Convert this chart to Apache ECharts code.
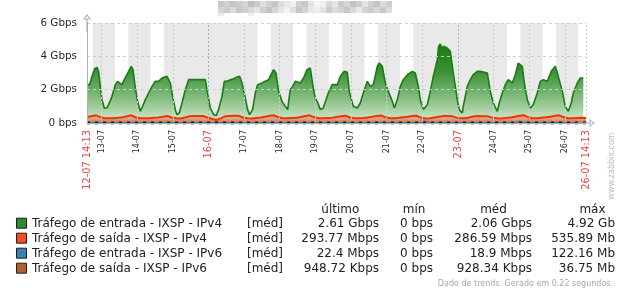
<!DOCTYPE html>
<html><head><meta charset="utf-8">
<script src="https://cdn.jsdelivr.net/npm/echarts@6/dist/echarts.min.js"></script>
<style>html,body{margin:0;padding:0;background:#fff}#c{width:625px;height:305px}</style>
</head><body><div id="c"></div>
<script>
// ---- DATA (hours since 12-07 14:13, values in Gbps) ----
const inV4Hours = [0,1.75,3.37,5.12,6.73,7.81,8.96,10.1,11.65,13.47,14.54,16.83,19.06,20.6,23.57,25.12,28.01,29.83,30.97,32.52,34.07,35.89,37.44,39.26,41.48,43.77,45.99,48.21,50.5,53.87,54.95,56.09,57.64,59.46,60.6,62.15,63.97,66.19,68.41,69.56,71.78,74.07,79.66,80.8,83.02,85.25,87.06,88.61,90.9,92.45,94.27,96.49,98.71,101.0,102.75,104.37,106.59,108.14,109.49,111.51,113.33,114.87,117.84,120.06,122.28,123.9,125.65,127.26,129.01,131.3,133.52,135.07,136.89,138.44,140.26,143.63,145.85,148.13,150.36,152.17,153.72,155.94,157.09,159.11,162.47,165.17,168.53,170.55,173.25,175.27,176.61,179.31,182.0,184.02,186.04,188.74,190.76,192.78,195.47,196.82,198.84,200.86,202.88,205.57,206.92,208.94,210.96,212.98,215.67,219.04,221.06,223.08,224.43,226.45,229.14,231.16,233.18,235.87,236.75,237.89,239.24,239.91,242.6,244.62,246.64,247.99,249.33,250.68,252.7,253.37,256.07,258.09,260.11,262.8,264.82,269.53,271.55,273.57,276.27,277.61,279.63,281.65,283.67,286.37,288.39,290.41,293.1,294.45,296.47,298.49,300.51,303.2,305.22,307.24,309.94,312.63,315.32,317.34,320.04,322.06,324.08,326.1,327.44,330.14,332.16,334.18,336];
const inV4 = [2.3,2.3,2.8,3.24,3.34,3.1,2.2,1.4,0.9,0.9,1.1,1.6,2.3,2.5,2.3,2.6,3.1,3.4,3.2,2.1,1.3,0.7,1.0,1.4,1.8,2.2,2.5,2.5,2.7,2.8,2.8,2.4,1.6,0.8,0.5,0.6,1.2,2.0,2.6,2.7,2.6,2.6,2.6,2.0,0.9,0.5,0.45,0.8,1.6,2.5,2.5,2.6,2.65,2.76,2.8,2.4,1.5,0.8,0.5,0.8,1.8,2.3,2.4,2.5,2.6,2.9,3.2,3.0,1.9,1.3,1.0,0.8,2.0,2.2,2.5,2.4,2.7,3.2,3.3,2.2,1.5,1.1,0.8,0.9,1.8,2.3,2.3,2.8,3.1,3.05,1.9,1.0,0.9,1.2,1.8,2.5,2.2,2.3,3.4,3.6,3.4,2.4,1.9,1.3,0.9,1.4,2.2,2.6,2.9,3.1,3.0,2.2,1.4,0.8,1.1,1.9,2.8,3.8,4.6,4.74,4.4,4.6,4.5,4.3,3.0,2.2,1.4,0.8,0.6,1.0,2.2,2.6,2.9,3.1,3.1,3.0,1.9,1.2,0.7,1.2,1.8,2.3,2.6,2.4,2.9,3.6,3.4,2.4,1.4,0.9,1.1,1.8,2.5,2.6,2.5,3.1,3.4,2.8,1.9,1.0,0.7,1.2,1.8,2.4,2.7,2.7];
// 3-hourly samples (0,3,...,336 h)
const outV4 = [0.36,0.41,0.46,0.35,0.29,0.28,0.28,0.31,0.35,0.41,0.46,0.33,0.29,0.28,0.29,0.31,0.33,0.37,0.42,0.33,0.28,0.27,0.33,0.40,0.42,0.42,0.42,0.33,0.26,0.18,0.28,0.40,0.42,0.43,0.44,0.33,0.28,0.27,0.30,0.33,0.38,0.43,0.46,0.34,0.29,0.28,0.30,0.32,0.36,0.42,0.46,0.34,0.29,0.28,0.30,0.32,0.36,0.40,0.44,0.33,0.29,0.28,0.30,0.33,0.37,0.42,0.45,0.34,0.29,0.28,0.31,0.35,0.38,0.42,0.43,0.32,0.27,0.28,0.33,0.38,0.42,0.42,0.40,0.32,0.28,0.28,0.34,0.40,0.42,0.41,0.40,0.32,0.28,0.27,0.30,0.33,0.38,0.44,0.47,0.35,0.29,0.28,0.31,0.34,0.38,0.43,0.46,0.34,0.29,0.28,0.30,0.32,0.30];
const inV6 = [0.02,0.021,0.024,0.02,0.016,0.015,0.016,0.018,0.02,0.022,0.024,0.02,0.016,0.015,0.016,0.018,0.019,0.021,0.023,0.019,0.016,0.015,0.017,0.02,0.022,0.022,0.022,0.019,0.015,0.014,0.016,0.02,0.022,0.023,0.023,0.019,0.016,0.015,0.017,0.019,0.021,0.023,0.024,0.02,0.016,0.015,0.017,0.018,0.02,0.022,0.024,0.02,0.016,0.015,0.017,0.018,0.02,0.022,0.023,0.019,0.016,0.015,0.017,0.019,0.021,0.022,0.024,0.02,0.016,0.015,0.017,0.019,0.021,0.022,0.023,0.019,0.12,0.016,0.018,0.02,0.022,0.022,0.021,0.019,0.016,0.015,0.018,0.021,0.022,0.022,0.021,0.019,0.016,0.015,0.017,0.019,0.021,0.12,0.024,0.02,0.016,0.015,0.017,0.019,0.021,0.023,0.024,0.02,0.016,0.015,0.017,0.018,0.022];
const outV6 = [0.00095,0.00096,0.00097,0.00094,0.00091,0.0009,0.00091,0.00093,0.00095,0.00096,0.00097,0.00094,0.00091,0.0009,0.00091,0.00093,0.00094,0.00095,0.00096,0.00093,0.0009,0.0009,0.00092,0.00094,0.00095,0.00095,0.00095,0.00093,0.0009,0.00089,0.00091,0.00094,0.00095,0.00096,0.00096,0.00093,0.00091,0.0009,0.00092,0.00093,0.00095,0.00096,0.00097,0.00094,0.00091,0.0009,0.00092,0.00093,0.00095,0.00096,0.00097,0.00094,0.00091,0.0009,0.00092,0.00093,0.00095,0.00096,0.00097,0.00094,0.00091,0.0009,0.00092,0.00093,0.00095,0.00096,0.00097,0.00094,0.00091,0.0009,0.00092,0.00093,0.00095,0.00096,0.00097,0.00093,0.0009,0.0009,0.00092,0.00094,0.00095,0.00095,0.00094,0.00093,0.0009,0.0009,0.00093,0.00095,0.00095,0.00095,0.00094,0.00092,0.0009,0.0009,0.00092,0.00093,0.00095,0.00096,0.00097,0.00094,0.00091,0.0009,0.00092,0.00093,0.00095,0.00096,0.00097,0.00094,0.00091,0.0009,0.00092,0.00093,0.00095];

const yTickLabels = ['0 bps','2 Gbps','4 Gbps','6 Gbps'];
const xTickLabels = ['12-07 14:13','13-07','14-07','15-07','16-07','17-07','18-07','19-07','20-07','21-07','22-07','23-07','24-07','25-07','26-07','26-07 14:13'];
const redTickLabels = ['12-07 14:13','16-07','23-07','26-07 14:13'];
const weekStartLabels = ['16-07','23-07'];

const legendNames = ['Tráfego de entrada - IXSP - IPv4','Tráfego de saída - IXSP - IPv4','Tráfego de entrada - IXSP - IPv6','Tráfego de saída - IXSP - IPv6'];
const legendFunc = ['[méd]','[méd]','[méd]','[méd]'];
const statHeaders = ['último','mín','méd','máx'];
const statLast = ['2.61 Gbps','293.77 Mbps','22.4 Mbps','948.72 Kbps'];
const statMin = ['0 bps','0 bps','0 bps','0 bps'];
const statAvg = ['2.06 Gbps','286.59 Mbps','18.9 Mbps','928.34 Kbps'];
const statMax = ['4.92 Gb','535.89 Mb','122.16 Mb','36.75 Mb'];
const footerText = 'Dado de trends. Gerado em 0.22 segundos.';
const watermarkText = 'www.zabbix.com';

// ---- helpers ----
const FONT = 'DejaVu Sans';
const START = Date.UTC(2017, 6, 12, 14, 13);
const HOUR = 3600000;
const SPAN = 336;
const firstMidnight = (Date.UTC(2017, 6, 13) - START) / HOUR;
const xTickHours = [0];
for (let k = 0; k < 14; k++) xTickHours.push(firstMidnight + 24 * k);
xTickHours.push(SPAN);
const hours3h = outV4.map((_, i) => i * 3);

// non-working periods (Mon-Fri 09-18 is working time)
const work = [];
for (let d = 11; d <= 27; d++) {
  const t = Date.UTC(2017, 6, d);
  const dow = new Date(t).getUTCDay();
  if (dow >= 1 && dow <= 5) work.push([(t + 9 * HOUR - START) / HOUR, (t + 18 * HOUR - START) / HOUR]);
}
const bands = [];
let cur = 0;
work.forEach(([a, b]) => {
  if (b <= 0 || a >= SPAN) return;
  if (a > cur) bands.push([cur, Math.min(a, SPAN)]);
  cur = Math.max(cur, b);
});
if (cur < SPAN) bands.push([cur, SPAN]);

const AXIS = '#a3b1b9';
const GRID = '#c5cfd5';
const GRID_DARK = '#9fb0ba';
const ARROW = 'path://M45 0 L90 60 L0 60 Z M45 20 L20 48 L70 48 Z M38 60 L52 60 L52 200 L38 200 Z';

const vLines = xTickHours.slice(1, -1).map((h, i) => ({
  xAxis: h,
  lineStyle: { color: weekStartLabels.includes(xTickLabels[i + 1]) ? GRID_DARK : GRID, type: [2, 2], width: 1 }
}));
vLines.push({ xAxis: SPAN, lineStyle: { color: GRID, type: [2, 2], width: 1 } });
const hLines = [2, 4, 6].map(v => ({ yAxis: v, lineStyle: { color: GRID, type: [3, 3], width: 1 } }));

const chart = echarts.init(document.getElementById('c'), null, { renderer: 'canvas' });

// legend graphics
const graphic = [];
const rowY = i => 223.7 + 15 * i;
const boxColors = ['#2f8a2f', '#f94b1f', '#3b80b2', '#ae622e'];
legendNames.forEach((n, i) => {
  graphic.push({ type: 'rect', shape: { x: 16.5, y: rowY(i) - 5.5, width: 10, height: 10 }, style: { fill: boxColors[i], stroke: '#1e1e1e', lineWidth: 1 } });
  graphic.push({ type: 'text', x: 32, y: rowY(i), style: { text: n, font: '12px ' + FONT, fill: '#222', textVerticalAlign: 'middle' } });
  graphic.push({ type: 'text', x: 247, y: rowY(i), style: { text: legendFunc[i], font: '12px ' + FONT, fill: '#222', textVerticalAlign: 'middle' } });
  [[statLast, 379], [statMin, 433], [statAvg, 532], [statMax, 615]].forEach(([arr, xr]) => {
    graphic.push({ type: 'text', x: xr, y: rowY(i), style: { text: arr[i], font: '12px ' + FONT, fill: '#222', textAlign: 'right', textVerticalAlign: 'middle' } });
  });
});
[340.3, 414, 493.5, 592.5].forEach((xc, j) => {
  graphic.push({ type: 'text', x: xc, y: 209.5, style: { text: statHeaders[j], font: '12px ' + FONT, fill: '#222', textAlign: 'center', textVerticalAlign: 'middle' } });
});
graphic.push({ type: 'text', x: 613, y: 284, style: { text: footerText, font: '8px ' + FONT, fill: '#a8a8a8', textAlign: 'right', textVerticalAlign: 'middle' } });
graphic.push({ type: 'text', x: 612, y: 166, rotation: Math.PI / 2, style: { text: watermarkText, font: '8px ' + FONT, fill: '#bdbdbd', textAlign: 'center', textVerticalAlign: 'middle' } });

// pixelated (obscured) title
const titleTop = ['c8','d0','c4','cc','d6','c0','ca','e0','d2','c6','dc','e8','f0','d0','c8','e4','f4','f0','d8','e6','ca','d4','c2','cc','e2','d0','c4','dc','cf'];
const titleBot = ['d6','cc','dc','c8','ce','d8','e4','d0','c4','d4','e6','f2','e0','c6','d4','ea','ee','e4','cc','dc','d2','c6','d8','e8','d4','cc','d8','c8','dc'];
titleTop.forEach((s, i) => graphic.push({ type: 'rect', shape: { x: 218 + 6 * i, y: 1, width: 6, height: 6 }, style: { fill: '#' + s + s + s } }));
titleBot.forEach((s, i) => graphic.push({ type: 'rect', shape: { x: 218 + 6 * i, y: 7, width: 6, height: 6 }, style: { fill: '#' + s + s + s } }));
graphic.push({ type: 'rect', shape: { x: 218, y: 13, width: 6, height: 3 }, style: { fill: '#ececec' } });
graphic.push({ type: 'rect', shape: { x: 248, y: 13, width: 6, height: 3 }, style: { fill: '#eeeeee' } });

const option = {
  animation: false,
  backgroundColor: '#ffffff',
  grid: { left: 87, right: 39, top: 23, height: 100 },
  xAxis: {
    type: 'value', min: 0, max: SPAN, z: 10,
    axisLine: { show: true, onZero: false, lineStyle: { color: AXIS, width: 1 }, symbol: ['none', ARROW], symbolSize: [8, 22] },
    axisTick: { show: false },
    splitLine: { show: false },
    axisLabel: {
      customValues: xTickHours, rotate: 90, margin: 7,
      formatter: (v) => {
        const i = xTickHours.findIndex(h => Math.abs(h - v) < 1e-6);
        const t = xTickLabels[i] || '';
        return redTickLabels.includes(t) ? '{r|' + t + '}' : '{b|' + t + '}';
      },
      rich: {
        r: { color: '#e8464a', fontSize: 9.8, fontFamily: FONT },
        b: { color: '#2a2a2a', fontSize: 8, fontFamily: FONT }
      }
    }
  },
  yAxis: {
    type: 'value', min: 0, max: 6, interval: 2, z: 10,
    axisLine: { show: true, lineStyle: { color: AXIS, width: 1 }, symbol: ['none', ARROW], symbolSize: [8, 22] },
    axisTick: { show: false },
    splitLine: { show: false },
    axisLabel: { formatter: v => yTickLabels[Math.round(v / 2)], fontSize: 10.4, color: '#2a2a2a', fontFamily: FONT, margin: 10 }
  },
  series: [
    { type: 'line', z: 1, data: [], silent: true,
      markArea: { silent: true, itemStyle: { color: '#e9e9e9' }, data: bands.map(([a, b]) => [{ xAxis: a }, { xAxis: b }]) } },
    { type: 'line', z: 2, data: [], silent: true,
      markLine: { silent: true, symbol: ['none', 'none'], label: { show: false }, animation: false, data: vLines.concat(hLines) } },
    { name: legendNames[0], type: 'line', z: 3, showSymbol: false, symbol: 'none',
      data: inV4Hours.map((h, i) => [h, inV4[i]]),
      lineStyle: { color: '#1a7c11', width: 1.6 },
      areaStyle: { opacity: 1, color: new echarts.graphic.LinearGradient(0, 0, 0, 1, [
        { offset: 0, color: '#1a7c11' }, { offset: 0.35, color: '#3a9136' }, { offset: 0.7, color: '#88bf83' }, { offset: 1, color: '#d6ebd3' }]) } },
    { name: legendNames[1], type: 'line', z: 4, showSymbol: false, symbol: 'none',
      data: hours3h.map((h, i) => [h, outV4[i]]),
      lineStyle: { color: '#f63100', width: 2 },
      areaStyle: { opacity: 1, color: new echarts.graphic.LinearGradient(0, 0, 0, 1, [
        { offset: 0, color: '#e0b194' }, { offset: 0.5, color: '#d9a283' }, { offset: 1, color: '#cc7244' }]) } },
    { name: legendNames[2], type: 'line', z: 5, showSymbol: false, symbol: 'none',
      data: hours3h.map((h, i) => [h, inV6[i]]),
      lineStyle: { color: '#2774a4', width: 1 } },
    { name: legendNames[3], type: 'line', z: 6, showSymbol: false, symbol: 'none',
      data: hours3h.map((h, i) => [h, outV6[i]]),
      lineStyle: { color: '#1b1b1b', width: 3, type: [3, 5] } }
  ],
  graphic: graphic
};
chart.setOption(option);
</script>
</body></html>
